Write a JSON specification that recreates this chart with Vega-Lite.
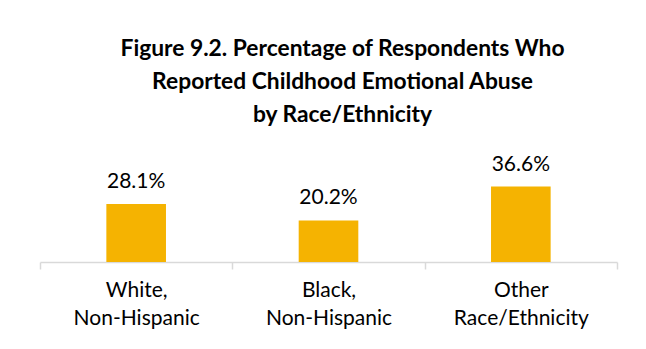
{
  "$schema": "https://vega.github.io/schema/vega-lite/v6.json",
  "autosize": "none",
  "width": 577,
  "height": 103,
  "padding": {"left": 40, "top": 159, "right": 29, "bottom": 87},
  "background": "white",
  "title": {
    "text": ["Figure 9.2. Percentage of Respondents Who", "Reported Childhood Emotional Abuse", "by Race/Ethnicity"],
    "font": "Lato",
    "fontSize": 22.8,
    "fontWeight": "bold",
    "color": "#000000",
    "lineHeight": 33,
    "anchor": "middle",
    "dx": 14,
    "offset": 27
  },
  "data": {
    "values": [
      {"group": "White,\nNon-Hispanic", "pct": 28.1, "label": "28.1%"},
      {"group": "Black,\nNon-Hispanic", "pct": 20.2, "label": "20.2%"},
      {"group": "Other\nRace/Ethnicity", "pct": 36.6, "label": "36.6%"}
    ]
  },
  "config": {"view": {"stroke": null}},
  "encoding": {
    "x": {
      "field": "group",
      "type": "nominal",
      "sort": null,
      "scale": {"paddingInner": 0, "paddingOuter": 0},
      "axis": {
        "title": null,
        "labelAngle": 0,
        "labelExpr": "datum.value ? split(datum.value, '\\n') : ''",
        "labelFont": "Lato",
        "labelFontSize": 21,
        "labelColor": "#000000",
        "labelLineHeight": 28,
        "labelPadding": 10,
        "tickBand": "extent",
        "tickSize": 7,
        "tickColor": "#d9d9d9",
        "domainColor": "#d9d9d9",
        "tickWidth": 1.5,
        "domainWidth": 1.5
      }
    },
    "y": {
      "field": "pct",
      "type": "quantitative",
      "scale": {"domain": [0, 50]},
      "axis": null
    }
  },
  "layer": [
    {"mark": {"type": "bar", "color": "#F5B301", "width": {"band": 0.31}}},
    {
      "mark": {"type": "text", "baseline": "alphabetic", "dy": -16, "font": "Lato", "fontSize": 21, "color": "#000000"},
      "encoding": {"text": {"field": "label", "type": "nominal"}}
    }
  ]
}
